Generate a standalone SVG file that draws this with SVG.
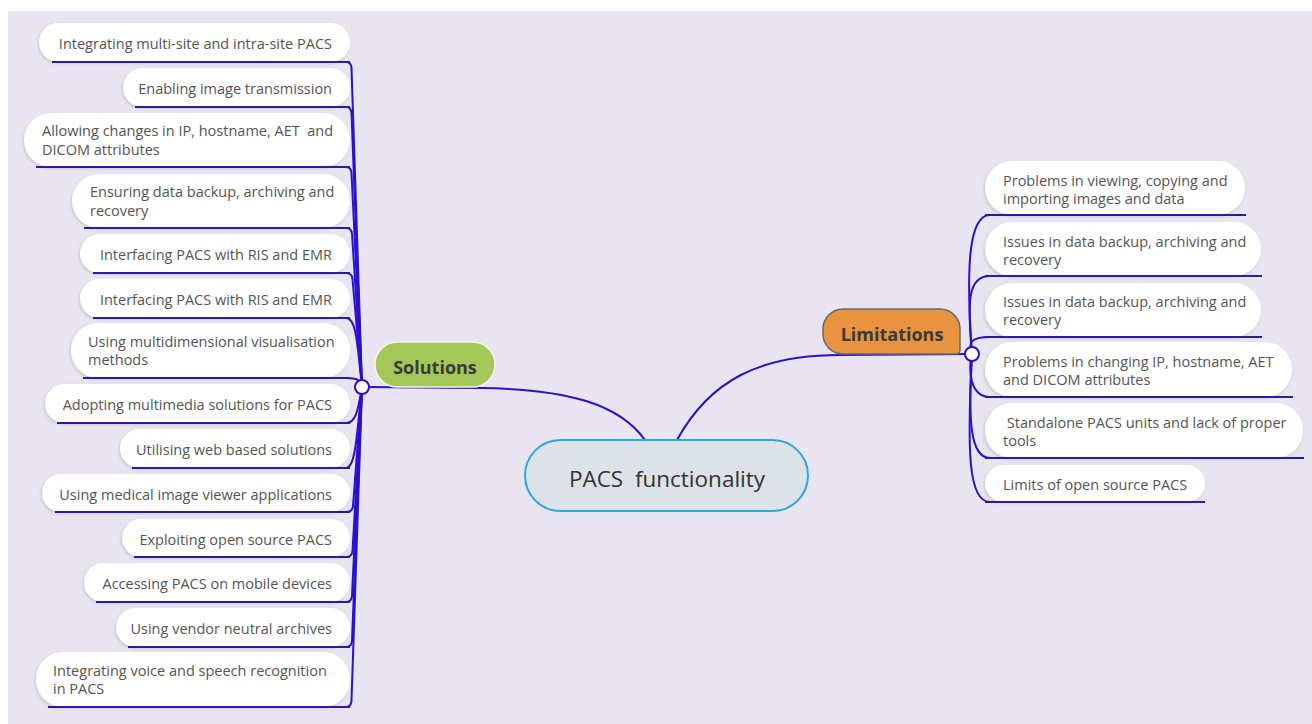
<svg xmlns="http://www.w3.org/2000/svg" width="1312" height="724" viewBox="0 0 1312 724">
<style>
.pill{fill:#ffffff;filter:url(#sh)}
.t{font-family:"Open Sans","Noto Sans",sans-serif;font-size:14.5px;fill:#555555;white-space:pre}
.e{text-anchor:end}
.ul{stroke:#2e1a9a;stroke-width:2;fill:none}
.c{stroke:#2a10d0;stroke-width:2;fill:none}
.hub{fill:#ffffff;stroke:#2a10d0;stroke-width:2}
.b{font-family:"Open Sans","Noto Sans",sans-serif;font-weight:bold;font-size:18px;fill:#3a3a3a;text-anchor:middle}
</style>
<defs>
<filter id="sh" x="-10%" y="-20%" width="120%" height="150%">
<feDropShadow dx="-1" dy="1.5" stdDeviation="1.5" flood-color="#8a8a9a" flood-opacity="0.35"/>
</filter>
</defs>
<rect x="0" y="0" width="1312" height="724" fill="#ffffff"/>
<rect x="8" y="11" width="1304" height="713" fill="#e8e4f0"/>

<g id="connectors">
<path class="c" d="M362,387 L351.5,68 Q351,62 346,62"/>
<path class="c" d="M362,387 L351.5,113 Q351,107 346,107"/>
<path class="c" d="M362,387 L351.5,173 Q351,167 346,167"/>
<path class="c" d="M362,387 L352,234 Q351.5,228 346,228"/>
<path class="c" d="M362,387 L352.5,279 Q352,273 346,273"/>
<path class="c" d="M362,387 C357,340 356,318 346,318"/>
<path class="c" d="M362,387 C360,380 358,378 346,378"/>
<path class="c" d="M362,387 C358,410 356,423 346,423"/>
<path class="c" d="M362,387 C357,430 356,468 346,468"/>
<path class="c" d="M362,387 L353,506 Q352.5,512 346,512"/>
<path class="c" d="M362,387 L352.5,551 Q352,557 346,557"/>
<path class="c" d="M362,387 L352,596 Q351.5,602 346,602"/>
<path class="c" d="M362,387 L352,641 Q351.5,647 346,647"/>
<path class="c" d="M362,387 L351.5,701 Q351,707 346,707"/>
<path class="c" d="M362,387 L480,388 C570,389 620,405 645,440"/>
<path class="c" d="M677,440 C710,380 760,355 840,355 L972,354"/>
<path class="c" d="M972,354 C966,270 968,215 990,215"/>
<path class="c" d="M972,354 C967,300 968,276 990,276"/>
<path class="c" d="M972,354 C968,343 970,337 990,337"/>
<path class="c" d="M972,354 C968,370 970,397 990,397"/>
<path class="c" d="M972,354 C968,420 970,458 990,458"/>
<path class="c" d="M972,354 C967,450 968,502 990,502"/>
</g>

<g id="left-1"><rect class="pill" x="39" y="23" width="311" height="39" rx="19.5"/><path class="ul" d="M52,62 H350"/><text class="t e" x="332" y="49">Integrating multi-site and intra-site PACS</text></g>
<g id="left-2"><rect class="pill" x="123" y="68" width="227" height="39" rx="19.5"/><path class="ul" d="M135,107 H350"/><text class="t e" x="332" y="94">Enabling image transmission</text></g>
<g id="left-3"><rect class="pill" x="24" y="113" width="326" height="54" rx="27"/><path class="ul" d="M36,167 H350"/><text class="t" x="42" y="136">Allowing changes in IP, hostname, AET  and</text><text class="t" x="42" y="155">DICOM attributes</text></g>
<g id="left-4"><rect class="pill" x="72" y="174" width="278" height="54" rx="27"/><path class="ul" d="M84,228 H350"/><text class="t" x="90" y="197">Ensuring data backup, archiving and</text><text class="t" x="90" y="216">recovery</text></g>
<g id="left-5"><rect class="pill" x="80" y="234" width="270" height="39" rx="19.5"/><path class="ul" d="M93,273 H350"/><text class="t e" x="332" y="260">Interfacing PACS with RIS and EMR</text></g>
<g id="left-6"><rect class="pill" x="80" y="279" width="270" height="39" rx="19.5"/><path class="ul" d="M93,318 H350"/><text class="t e" x="332" y="305">Interfacing PACS with RIS and EMR</text></g>
<g id="left-7"><rect class="pill" x="71" y="323" width="279" height="55" rx="27"/><path class="ul" d="M83,378 H350"/><text class="t" x="88" y="347">Using multidimensional visualisation</text><text class="t" x="88" y="365">methods</text></g>
<g id="left-8"><rect class="pill" x="45" y="384" width="305" height="39" rx="19.5"/><path class="ul" d="M57,423 H350"/><text class="t e" x="332" y="410">Adopting multimedia solutions for PACS</text></g>
<g id="left-9"><rect class="pill" x="120" y="429" width="230" height="39" rx="19.5"/><path class="ul" d="M132,468 H350"/><text class="t e" x="332" y="455">Utilising web based solutions</text></g>
<g id="left-10"><rect class="pill" x="42" y="474" width="308" height="38" rx="19"/><path class="ul" d="M55,512 H350"/><text class="t e" x="332" y="500">Using medical image viewer applications</text></g>
<g id="left-11"><rect class="pill" x="122" y="519" width="228" height="38" rx="19"/><path class="ul" d="M134,557 H350"/><text class="t e" x="332" y="545">Exploiting open source PACS</text></g>
<g id="left-12"><rect class="pill" x="84" y="563" width="266" height="39" rx="19.5"/><path class="ul" d="M96,602 H350"/><text class="t e" x="332" y="589">Accessing PACS on mobile devices</text></g>
<g id="left-13"><rect class="pill" x="116" y="608" width="234" height="39" rx="19.5"/><path class="ul" d="M128,647 H350"/><text class="t e" x="332" y="634">Using vendor neutral archives</text></g>
<g id="left-14"><rect class="pill" x="36" y="652" width="314" height="55" rx="27"/><path class="ul" d="M48,707 H350"/><text class="t" x="53" y="676">Integrating voice and speech recognition</text><text class="t" x="53" y="694">in PACS</text></g>

<g id="solutions"><rect x="375" y="342" width="120" height="45" rx="22.5" fill="#a4c75a" stroke="#f4f4f0" stroke-width="1.5"/><text class="b" x="435" y="374">Solutions</text></g>
<circle class="hub" cx="362" cy="387" r="7"/>

<g id="center"><rect x="525" y="440" width="283" height="71" rx="35.5" fill="#dde1e8" stroke="#2aa6e0" stroke-width="2"/><text x="667" y="487" text-anchor="middle" font-family="Open Sans, Noto Sans, sans-serif" font-size="22.5" fill="#333333" style="white-space:pre">PACS  functionality</text></g>

<g id="limitations"><path d="M843,309 H940 A20,20 0 0 1 960,329 V350 Q960,354 956,354 H843 A20,20 0 0 1 823,334 V329 A20,20 0 0 1 843,309 Z" fill="#e8933f" stroke="#6a6a6a" stroke-width="1.5"/><text class="b" x="892" y="341">Limitations</text></g>
<circle class="hub" cx="972" cy="354" r="7"/>

<g id="right-1"><rect class="pill" x="985" y="161" width="260" height="54" rx="27"/><path class="ul" d="M985,215 H1246"/><text class="t" x="1003" y="186">Problems in viewing, copying and</text><text class="t" x="1003" y="204">importing images and data</text></g>
<g id="right-2"><rect class="pill" x="985" y="222" width="276" height="54" rx="27"/><path class="ul" d="M985,276 H1262"/><text class="t" x="1003" y="247">Issues in data backup, archiving and</text><text class="t" x="1003" y="265">recovery</text></g>
<g id="right-3"><rect class="pill" x="985" y="283" width="276" height="54" rx="27"/><path class="ul" d="M985,337 H1262"/><text class="t" x="1003" y="307">Issues in data backup, archiving and</text><text class="t" x="1003" y="325">recovery</text></g>
<g id="right-4"><rect class="pill" x="985" y="342" width="307" height="55" rx="27"/><path class="ul" d="M985,397 H1293"/><text class="t" x="1003" y="367">Problems in changing IP, hostname, AET</text><text class="t" x="1003" y="385">and DICOM attributes</text></g>
<g id="right-5"><rect class="pill" x="985" y="403" width="318" height="55" rx="27"/><path class="ul" d="M985,458 H1304"/><text class="t" x="1003" y="428"> Standalone PACS units and lack of proper</text><text class="t" x="1003" y="446">tools</text></g>
<g id="right-6"><rect class="pill" x="985" y="465" width="220" height="37" rx="18.5"/><path class="ul" d="M985,502 H1205"/><text class="t" x="1003" y="490">Limits of open source PACS</text></g>
</svg>
